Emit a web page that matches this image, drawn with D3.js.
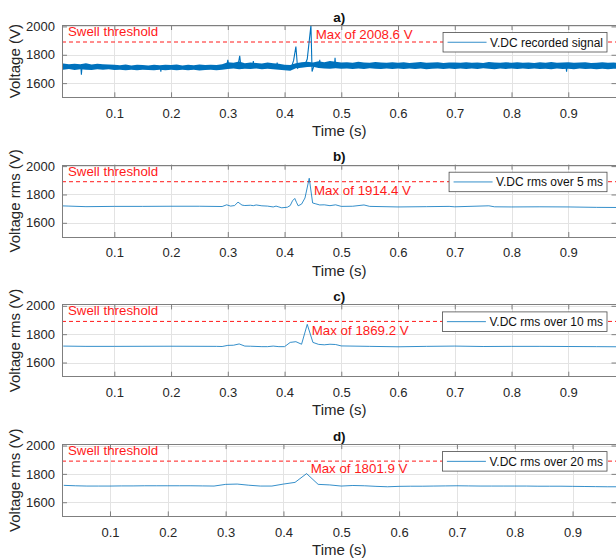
<!DOCTYPE html>
<html>
<head>
<meta charset="utf-8">
<script src="https://cdn.jsdelivr.net/npm/d3@7"></script>
<style>
  body { margin: 0; background: #fff; }
  svg { display: block; font-family: "Liberation Sans", Arial, sans-serif; }
</style>
</head>
<body>
<div id="chart"></div>
<script>
// ---- data ----
const panelNames = ["a)", "b)", "c)", "d)"];
const legendLabels = ["V.DC recorded signal", "V.DC rms over 5 ms", "V.DC rms over 10 ms", "V.DC rms over 20 ms"];
const yLabels = ["Voltage (V)", "Voltage rms (V)", "Voltage rms (V)", "Voltage rms (V)"];
const maxLabels = ["Max of 2008.6 V", "Max of 1914.4 V", "Max of 1869.2 V", "Max of 1801.9 V"];
const swellThreshold = 1890;
const xTicks = [0.1, 0.2, 0.3, 0.4, 0.5, 0.6, 0.7, 0.8, 0.9];
const yTicks = [1600, 1800, 2000];
const yDomain = [1500, 2010];
const xDomains = [[0.0078, 0.985], [0.0078, 0.985], [0.0078, 0.985], [0.017, 0.976]];

// a) recorded signal: noise envelope (every 10 ms) + the trace with its spikes
const bandT = [0.00,0.01,0.02,0.03,0.04,0.05,0.06,0.07,0.08,0.09,
  0.10,0.11,0.12,0.13,0.14,0.15,0.16,0.17,0.18,0.19,
  0.20,0.21,0.22,0.23,0.24,0.25,0.26,0.27,0.28,0.29,
  0.30,0.31,0.32,0.33,0.34,0.35,0.36,0.37,0.38,0.39,
  0.40,0.41,0.42,0.43,0.44,0.45,0.46,0.47,0.48,0.49,
  0.50,0.51,0.52,0.53,0.54,0.55,0.56,0.57,0.58,0.59,
  0.60,0.61,0.62,0.63,0.64,0.65,0.66,0.67,0.68,0.69,
  0.70,0.71,0.72,0.73,0.74,0.75,0.76,0.77,0.78,0.79,
  0.80,0.81,0.82,0.83,0.84,0.85,0.86,0.87,0.88,0.89,
  0.90,0.91,0.92,0.93,0.94,0.95,0.96,0.97,0.98,0.99];
const bandHi = [1736,1739,1733,1737,1734,1740,1732,1736,1733,1731,
  1729,1726,1731,1725,1730,1727,1724,1729,1726,1730,
  1727,1731,1725,1729,1726,1732,1727,1730,1728,1734,
  1748,1743,1752,1740,1746,1742,1739,1745,1741,1737,
  1730,1727,1740,1748,1751,1746,1754,1747,1756,1751,
  1745,1748,1743,1750,1746,1744,1749,1745,1743,1748,
  1744,1747,1742,1745,1749,1743,1745,1748,1742,1746,
  1745,1743,1748,1744,1746,1742,1749,1745,1743,1747,
  1744,1748,1743,1745,1742,1747,1744,1749,1743,1745,
  1747,1743,1745,1748,1742,1744,1747,1743,1745,1744];
const bandLo = [1697,1694,1699,1693,1698,1695,1692,1697,1694,1698,
  1692,1695,1690,1694,1691,1695,1692,1690,1694,1691,
  1694,1690,1695,1691,1694,1689,1693,1695,1691,1694,
  1700,1703,1698,1702,1699,1703,1697,1701,1698,1694,
  1690,1688,1705,1709,1713,1716,1706,1704,1702,1705,
  1701,1704,1699,1703,1700,1705,1701,1699,1703,1700,
  1703,1699,1704,1700,1703,1698,1702,1704,1699,1703,
  1700,1704,1699,1703,1700,1705,1701,1698,1703,1700,
  1704,1699,1703,1700,1704,1699,1702,1698,1703,1700,
  1702,1698,1703,1699,1702,1697,1701,1698,1702,1699];
const traceT = [0.005,0.041,0.042,0.043,0.181,0.182,0.183,0.298,0.300,0.302,0.318,0.321,0.323,
  0.344,0.345,0.346,0.386,0.387,0.388,0.412,0.416,0.420,0.423,0.430,0.437,0.440,0.4465,0.4485,
  0.452,0.461,0.462,0.463,0.488,0.489,0.490,0.896,0.897,0.898,0.99];
const traceV = [1715,1715,1660,1712,1712,1680,1712,1715,1765,1718,1725,1792,1722,
  1722,1755,1720,1720,1745,1718,1710,1760,1858,1705,1725,1740,1770,2008.6,1682,
  1725,1725,1765,1725,1725,1778,1725,1722,1680,1722,1720];

// b) rms over 5 ms
const rms5T = [0.005,0.02,0.05,0.10,0.15,0.20,0.25,0.29,0.298,0.305,0.312,0.318,0.325,0.33,0.34,0.345,
  0.35,0.36,0.37,0.38,0.385,0.39,0.395,0.405,0.41,0.414,0.418,0.421,0.424,0.43,0.436,0.4435,0.4495,
  0.454,0.462,0.47,0.48,0.49,0.50,0.52,0.54,0.55,0.60,0.65,0.69,0.70,0.76,0.77,0.80,0.85,0.90,0.95,0.99];
const rms5V = [1720,1718,1714,1716,1716,1717,1717,1715,1727,1718,1722,1746,1725,1722,1724,1721,
  1726,1720,1718,1712,1718,1712,1706,1710,1722,1755,1772,1745,1720,1732,1775,1914.4,1740,
  1735,1726,1727,1721,1727,1716,1717,1726,1716,1712,1714,1716,1713,1720,1713,1712,1713,1712,1709,1708];

// c) rms over 10 ms
const rms10T = [0.01,0.05,0.10,0.20,0.28,0.29,0.30,0.31,0.32,0.33,0.34,0.36,0.37,0.38,0.39,0.40,
  0.41,0.42,0.43,0.44,0.45,0.46,0.47,0.48,0.49,0.50,0.55,0.60,0.65,0.70,0.75,0.80,0.85,0.90,0.95,0.99];
const rms10V = [1716,1714,1714,1715,1714,1713,1721,1722,1731,1716,1715,1712,1712,1716,1712,1712,
  1742,1747,1729,1869.2,1742,1728,1725,1729,1727,1717,1714,1711,1714,1716,1713,1714,1714,1713,1712,1711];

// d) rms over 20 ms
const rms20T = [0.02,0.04,0.06,0.08,0.10,0.12,0.14,0.16,0.18,0.20,0.22,0.24,0.26,0.28,0.30,0.32,0.34,
  0.36,0.38,0.40,0.42,0.44,0.46,0.48,0.50,0.52,0.54,0.56,0.58,0.60,0.62,0.64,0.66,0.68,0.70,0.72,
  0.74,0.76,0.78,0.80,0.82,0.84,0.86,0.88,0.90,0.92,0.94,0.96,0.98];
const rms20V = [1719,1716,1714,1714,1714,1715,1715,1716,1716,1716,1716,1716,1715,1714,1726,1728,1720,
  1714,1714,1728,1740,1801.9,1726,1722,1714,1718,1716,1712,1709,1712,1713,1713,1714,1715,1716,1715,
  1714,1714,1714,1714,1714,1713,1713,1713,1712,1711,1710,1709,1709];

// where the "Max of" notes were put (time, volts)
const maxLabelAt = [[0.455, 1912], [0.452, 1797], [0.448, 1795], [0.447, 1806]];

// ---- layout ----
const W = 616, H = 559;
const left = 62, right = 616.5, plotH = 72.3, firstTop = 25, step = 139.7;
const BLUE = "#0072BD", RED = "#ff1a1a", AXIS = "#7f7f7f", TXT = "#262626";

const rmsSeries = [null, [rms5T, rms5V], [rms10T, rms10V], [rms20T, rms20V]];

const svg = d3.select("#chart").append("svg")
  .attr("width", W)
  .attr("height", H);

panelNames.forEach((name, i) => {
  const top = firstTop + i * step, bottom = top + plotH;
  const x = d3.scaleLinear().domain(xDomains[i]).range([left, right]);
  const y = d3.scaleLinear().domain(yDomain).range([bottom, top]);
  const g = svg.append("g");

  g.append("clipPath").attr("id", "clip" + i)
    .append("rect").attr("x", left).attr("y", top)
    .attr("width", right - left).attr("height", plotH);

  // grid
  g.selectAll(".gx").data(xTicks).join("line")
    .attr("x1", d => Math.round(x(d)) + 0.5).attr("x2", d => Math.round(x(d)) + 0.5)
    .attr("y1", top).attr("y2", bottom)
    .attr("stroke", "#e3e3e3");
  g.selectAll(".gy").data(yTicks).join("line")
    .attr("x1", left).attr("x2", right)
    .attr("y1", d => Math.round(y(d)) + 0.5).attr("y2", d => Math.round(y(d)) + 0.5)
    .attr("stroke", "#e3e3e3");

  // threshold
  g.append("line")
    .attr("x1", left).attr("x2", right)
    .attr("y1", y(swellThreshold)).attr("y2", y(swellThreshold))
    .attr("stroke", RED).attr("stroke-width", 1)
    .attr("stroke-dasharray", "4,3");

  const plot = g.append("g").attr("clip-path", `url(#clip${i})`);
  if (i === 0) {
    const band = bandT.map((t, k) => ({ t: t, lo: bandLo[k], hi: bandHi[k] }));
    plot.append("path").datum(band)
      .attr("fill", BLUE)
      .attr("d", d3.area().x(d => x(d.t)).y0(d => y(d.lo)).y1(d => y(d.hi)));
    plot.append("path").datum(traceT.map((t, k) => [t, traceV[k]]))
      .attr("fill", "none").attr("stroke", BLUE).attr("stroke-width", 1.1)
      .attr("d", d3.line().x(d => x(d[0])).y(d => y(d[1])));
  } else {
    const [ts, vs] = rmsSeries[i];
    plot.append("path").datum(ts.map((t, k) => [t, vs[k]]))
      .attr("fill", "none").attr("stroke", BLUE).attr("stroke-width", 0.8)
      .attr("d", d3.line().x(d => x(d[0])).y(d => y(d[1])));
  }

  // axes (ticks pointing inward like MATLAB)
  const styleAxis = sel => {
    sel.select(".domain").remove();
    sel.selectAll(".tick line").attr("stroke", AXIS);
    sel.selectAll(".tick text").attr("fill", TXT).style("font-size", "13px")
      .style("font-family", '"Liberation Sans", Arial, sans-serif');
  };
  g.append("g").attr("transform", `translate(0,${bottom})`)
    .call(d3.axisBottom(x).tickValues(xTicks).tickSize(-5).tickPadding(11).tickFormat(d3.format(".1f")))
    .call(styleAxis);
  g.append("g").attr("transform", `translate(0,${top})`)
    .call(d3.axisTop(x).tickValues(xTicks).tickSize(-5).tickFormat(""))
    .call(styleAxis);
  g.append("g").attr("transform", `translate(${left},0)`)
    .call(d3.axisLeft(y).tickValues(yTicks).tickSize(-5).tickPadding(7).tickFormat(d3.format("d")))
    .call(styleAxis);
  g.append("g").attr("transform", `translate(${right},0)`)
    .call(d3.axisRight(y).tickValues(yTicks).tickSize(-5).tickFormat(""))
    .call(styleAxis);

  g.append("rect")
    .attr("x", left + 0.5).attr("y", Math.round(top) + 0.5)
    .attr("width", right - left).attr("height", Math.round(plotH))
    .attr("fill", "none").attr("stroke", AXIS);

  // texts
  g.append("text").attr("x", (left + right) / 2).attr("y", top - 3.5)
    .attr("text-anchor", "middle").attr("font-weight", "bold")
    .attr("font-size", 13.5).attr("fill", "#111").text(name);
  g.append("text").attr("x", (left + right) / 2).attr("y", bottom + 38.5)
    .attr("text-anchor", "middle").attr("font-size", 15).attr("fill", TXT)
    .text("Time (s)");
  g.append("text")
    .attr("transform", `translate(19.5,${(top + bottom) / 2}) rotate(-90)`)
    .attr("text-anchor", "middle").attr("font-size", 15).attr("fill", TXT)
    .text(yLabels[i]);

  g.append("text").attr("x", left + 6).attr("y", y(swellThreshold) - 6)
    .attr("font-size", 13.3).attr("fill", RED).text("Swell threshold");
  g.append("text").attr("x", x(maxLabelAt[i][0])).attr("y", y(maxLabelAt[i][1]))
    .attr("font-size", 13.3).attr("fill", RED).text(maxLabels[i]);

  // legend
  const lg = g.append("g");
  const box = lg.append("rect");
  const lt = lg.append("text").attr("font-size", 12).attr("fill", "#111").text(legendLabels[i]);
  const tw = lt.node().getComputedTextLength();
  const bw = 4.5 + 39 + 3.5 + tw + 4, bh = 19.5;
  const bx = 607 - bw, by = top + 7.5;
  box.attr("x", bx).attr("y", by).attr("width", bw).attr("height", bh)
    .attr("fill", "#fff").attr("stroke", "#4d4d4d").attr("stroke-width", 0.8);
  lg.append("line").attr("x1", bx + 4.5).attr("x2", bx + 43.5)
    .attr("y1", by + bh / 2).attr("y2", by + bh / 2)
    .attr("stroke", BLUE).attr("stroke-width", 0.8);
  lt.attr("x", bx + 47).attr("y", by + bh / 2 + 4.3);
});
</script>
</body>
</html>
